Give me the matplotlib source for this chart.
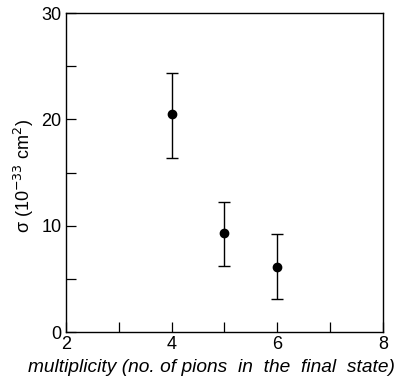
import matplotlib
matplotlib.use("Agg")
import matplotlib.pyplot as plt
from matplotlib.ticker import MultipleLocator

# data
multiplicity = [4, 5, 6]
sigma = [20.5, 9.3, 6.1]
sigma_err_up = [3.9, 2.9, 3.1]
sigma_err_down = [4.1, 3.1, 3.0]

plt.rcParams['font.family'] = ['Liberation Sans', 'DejaVu Sans']

fig = plt.figure(figsize=(4.14, 3.83), dpi=100)
ax = fig.add_axes([0.159, 0.133, 0.766, 0.833])

ax.errorbar(multiplicity, sigma, yerr=[sigma_err_down, sigma_err_up],
            fmt='o', color='black', markersize=6, capsize=4, elinewidth=1.0,
            capthick=1.0)

ax.set_xlim(2, 8)
ax.set_ylim(0, 30)
ax.xaxis.set_major_locator(MultipleLocator(2))
ax.xaxis.set_minor_locator(MultipleLocator(1))
ax.yaxis.set_major_locator(MultipleLocator(10))
ax.yaxis.set_minor_locator(MultipleLocator(5))
ax.tick_params(which='both', direction='in', length=7, width=0.9,
               top=False, right=False, labelsize=13, pad=3)

for s in ax.spines.values():
    s.set_linewidth(1.0)

# x label is wide in the original, spread it with extra spaces
ax.set_xlabel('multiplicity (no. of pions  in  the  final  state)',
              fontstyle='italic', fontsize=13.8, labelpad=1)
ax.xaxis.set_label_coords(0.46, -0.085)
ax.set_ylabel('σ (10$^{-33}$ cm$^{2}$)', fontsize=13, labelpad=2)
ax.yaxis.set_label_coords(-0.095, 0.49)

fig.savefig('out.png', dpi=100)
